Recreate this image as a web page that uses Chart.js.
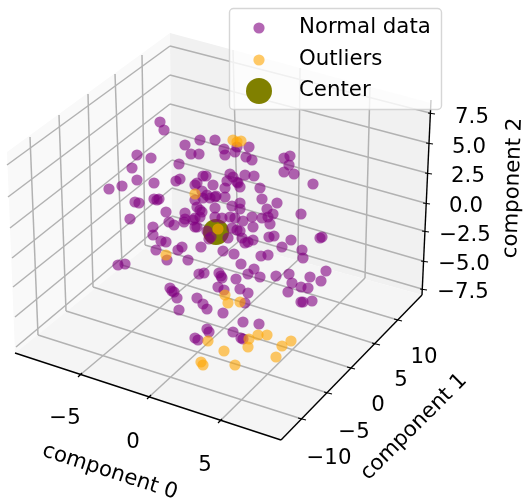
<!DOCTYPE html>
<html>
<head>
<meta charset="utf-8">
<script src="https://cdn.jsdelivr.net/npm/chart.js@4/dist/chart.umd.min.js"></script>
<style>
  html, body { margin: 0; padding: 0; background: #fff; }
  canvas { display: block; }
</style>
</head>
<body>
<canvas id="chart" width="525" height="500"></canvas>
<script>
// values, in the projected plane of the 3d view
const normalX = [160,164,185,200,215,137,151,191,199,224,225,235,237,249,246,252,132,179,137,154,176,180,203,206,230,233,245,254,227,237,238,240,225,213,109,122,195,197,260,262,135,139,154,157,159,202,195,203,210,215,277,313,284,290,289,284,294,267,273,268,262,270,252,253,243,240,240,232,230,235,301,200,200,215,215,222,166,130,185,185,184,169,174,153,153,161,166,195,197,195,232,237,240,211,228,269,274,291,282,320,322,253,242,245,248,178,182,156,201,223,234,118,125,167,188,199,204,219,221,222,218,224,236,240,248,241,254,248,260,261,268,302,303,276,289,292,288,301,308,310,326,321,301,303,312,170,172,174,177,179,197,203,207,223,245,243,207,209,195,198,233,241,243,259,207,209,197,207,193,225,202,216];
const normalY = [122,130,145,140,140,155,158,154,154,149,155,152,147,147,157,160,168,164,180,183,181,179,176,176,174,177,175,176,181,182,183,187,188,185,189,186,185,183,188,199,202,203,199,200,199,191,200,198,198,197,203,184,158,156,165,172,174,209,214,217,218,224,217,227,221,203,209,206,217,218,214,210,217,208,217,218,212,219,213,219,222,222,225,227,235,241,242,218,227,227,228,230,231,237,238,237,236,240,247,238,237,240,238,243,242,250,247,250,247,251,254,265,264,260,260,274,273,273,276,278,287,290,279,289,293,264,269,274,277,256,255,250,258,276,274,283,292,287,288,277,271,281,302,302,301,288,291,292,298,310,298,304,309,313,303,322,329,332,338,340,332,338,339,324,231,239,207,195,220,197,212,196];
const outlierX = [233,241,237,195,218,166,225,228,240,208,224,201,203,235,248,249,258,267,282,291,276];
const outlierY = [140,141,142,194,229,255,295,303,302,341,351,362,365,365,347,339,335,335,346,341,357];
const centerX = [216];
const centerY = [232];

const xTickLabels = ['\u22125', '0', '5'];
const yTickLabels = ['\u221210', '\u22125', '0', '5', '10'];
const zTickLabels = ['7.5', '5.0', '2.5', '0.0', '\u22122.5', '\u22125.0', '\u22127.5'];
const legendLabels = ['Normal data', 'Outliers', 'Center'];

const toPoints = (xs, ys) => xs.map((x, i) => ({ x: x, y: ys[i] }));
const FONT = '"DejaVu Sans"';
const TICK_FONT = '21.3px ' + FONT;

// view geometry: panes, grid and axis lines of the 3d box
const box = {
  left: [[7,152],[170,33],[172,226],[15,353]],
  right: [[170,33],[431,103],[422,295],[172,226]],
  floor: [[15,353],[172,226],[422,295],[281,440]],
  grid: [
    [[30,137],[38,335]], [[59,115],[66,311]], [[88,94],[93,287]], [[115,74],[122,265]], [[142,55],[145,245]],
    [[233,50],[238,242]], [[300,68],[298,260]], [[370,87],[365,278]],
    [[80,375],[238,242]], [[149,397],[298,260]], [[220,421],[365,278]],
    [[302,419],[38,335]], [[328,393],[66,311]], [[351,368],[93,287]], [[376,344],[122,265]], [[398,320],[145,245]],
    [[7,165],[170,46]], [[8,197],[170,75]], [[10,228],[170,104]], [[12,258],[170,132]], [[13,287],[172,160]], [[15,317],[172,188]], [[16,347],[172,216]],
    [[170,46],[430,113]], [[170,75],[428,143]], [[170,104],[427,173]], [[170,132],[425,203]], [[172,160],[424,231]], [[172,188],[423,261]], [[172,216],[422,289]]
  ],
  axes: [[[15,353],[281,440]], [[281,440],[422,295]], [[422,295],[431,100]]],
  ticks: [
    [[78,377],[82,373]], [[147,399],[151,395]], [[218,423],[222,419]],
    [[298,418],[306,420]], [[324,392],[332,394]], [[347,367],[355,369]], [[372,343],[380,345]], [[394,319],[402,321]],
    [[428,113],[435,114]], [[426,143],[433,144]], [[425,173],[432,174]], [[423,203],[430,204]], [[422,231],[429,232]], [[421,261],[428,262]], [[420,289],[427,290]]
  ]
};
const xTickPos = [[65,418],[133,442],[205,465]];
const yTickPos = [[329,458],[354,432],[378,405],[401,380],[424,357]];
const zTickPos = [[472,117],[469,147],[468,176],[466,206],[465,235],[464,264],[463,292]];

const boxPlugin = {
  id: 'box',
  beforeDatasetsDraw(chart) {
    const { ctx, scales } = chart;
    const px = p => [scales.x.getPixelForValue(p[0]), scales.y.getPixelForValue(p[1])];
    const poly = (pts, color) => {
      ctx.beginPath();
      pts.forEach((p, i) => { const q = px(p); i ? ctx.lineTo(q[0], q[1]) : ctx.moveTo(q[0], q[1]); });
      ctx.closePath();
      ctx.fillStyle = color;
      ctx.fill();
    };
    const lines = (list, color, width) => {
      ctx.strokeStyle = color;
      ctx.lineWidth = width;
      list.forEach(l => {
        const a = px(l[0]), b = px(l[1]);
        ctx.beginPath();
        ctx.moveTo(a[0], a[1]);
        ctx.lineTo(b[0], b[1]);
        ctx.stroke();
      });
    };
    ctx.save();
    poly(box.left, '#f9f9f9');
    poly(box.right, '#f1f1f1');
    poly(box.floor, '#f5f5f5');
    lines(box.grid, '#b2b2b2', 1.5);
    lines(box.axes, '#000', 1.4);
    lines(box.ticks, '#000', 1.2);

    ctx.fillStyle = '#000';
    ctx.textAlign = 'center';
    ctx.textBaseline = 'middle';
    ctx.font = TICK_FONT;
    xTickLabels.forEach((t, i) => ctx.fillText(t, xTickPos[i][0], xTickPos[i][1]));
    yTickLabels.forEach((t, i) => ctx.fillText(t, yTickPos[i][0], yTickPos[i][1]));
    zTickLabels.forEach((t, i) => ctx.fillText(t, zTickPos[i][0], zTickPos[i][1]));

    const rotated = (t, x, y, deg) => {
      ctx.save();
      ctx.translate(x, y);
      ctx.rotate(deg * Math.PI / 180);
      ctx.fillText(t, 0, 0);
      ctx.restore();
    };
    rotated('component 0', 110, 472, 18);
    rotated('component 1', 414, 427, -45);
    rotated('component 2', 513, 188, -88);
    ctx.restore();
  },
  afterDatasetsDraw(chart) {
    const { ctx } = chart;
    ctx.save();
    ctx.beginPath();
    ctx.roundRect(229.5, 8.5, 212, 101, 4);
    ctx.fillStyle = 'rgba(255,255,255,0.8)';
    ctx.fill();
    ctx.strokeStyle = 'rgba(204,204,204,0.8)';
    ctx.lineWidth = 1.4;
    ctx.stroke();

    const marks = [
      [28, 5.6, 'rgba(128,0,128,0.6)'],
      [60, 5.6, 'rgba(255,165,0,0.6)'],
      [91, 13, '#808000']
    ];
    ctx.font = TICK_FONT;
    ctx.textAlign = 'left';
    ctx.textBaseline = 'middle';
    marks.forEach((m, i) => {
      ctx.beginPath();
      ctx.arc(259, m[0], m[1], 0, Math.PI * 2);
      ctx.fillStyle = m[2];
      ctx.fill();
      ctx.fillStyle = '#000';
      ctx.fillText(legendLabels[i], 299, m[0] - 1);
    });
    ctx.restore();
  }
};

new Chart(document.getElementById('chart'), {
  type: 'scatter',
  data: {
    datasets: [
      { label: legendLabels[1], data: toPoints(outlierX, outlierY), backgroundColor: 'rgba(255,165,0,0.6)', pointRadius: 5.6, borderWidth: 0, order: 1 },
      { label: legendLabels[0], data: toPoints(normalX, normalY), backgroundColor: 'rgba(128,0,128,0.6)', pointRadius: 5.6, borderWidth: 0, order: 2 },
      { label: legendLabels[2], data: toPoints(centerX, centerY), backgroundColor: '#808000', pointRadius: 13, borderWidth: 0, order: 3 }
    ]
  },
  options: {
    responsive: false,
    animation: false,
    events: [],
    layout: { padding: 0, autoPadding: false },
    plugins: { legend: { display: false }, tooltip: { enabled: false } },
    scales: {
      x: { type: 'linear', min: 0, max: 525, display: false },
      y: { type: 'linear', min: 0, max: 500, reverse: true, display: false }
    }
  },
  plugins: [boxPlugin]
});
</script>
</body>
</html>
